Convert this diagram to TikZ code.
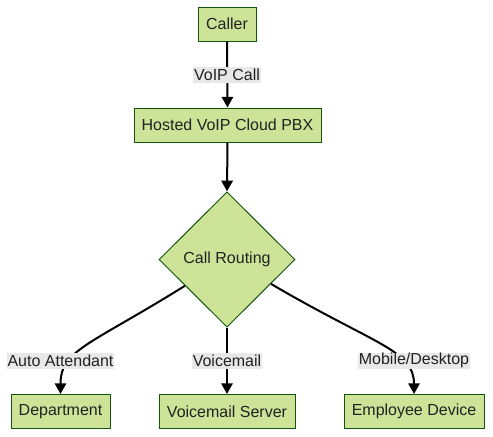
\documentclass[tikz,border=0pt]{standalone}
\usepackage{fontspec}
\setmainfont{Liberation Sans}
\usetikzlibrary{shapes.geometric,arrows.meta}
\definecolor{nodefill}{HTML}{CDE498}
\definecolor{nodeline}{HTML}{13540C}
\definecolor{lblbg}{HTML}{E8E8E8}
\definecolor{txt}{HTML}{222222}
\tikzset{
  box/.style={draw=nodeline, fill=nodefill, line width=0.75pt, inner sep=0pt,
    minimum height=25.5pt, text=txt, font=\fontsize{12}{14}\selectfont},
  dia/.style={diamond, draw=nodeline, fill=nodefill, line width=0.75pt, inner sep=0pt,
    minimum width=102pt, minimum height=101.5pt, text=txt, font=\fontsize{12}{14}\selectfont},
  lbl/.style={fill=lblbg, inner xsep=0.5pt, inner ysep=0pt, minimum height=12pt,
    text=txt, font=\fontsize{12}{14}\selectfont},
  edge/.style={line width=1.5pt, draw=black, -{Triangle[length=8pt,width=8.5pt]}},
  plain/.style={line width=1.5pt, draw=black}
}
\begin{document}
\begin{tikzpicture}[x=0.75pt,y=-0.75pt]
\useasboundingbox (0,0) rectangle (493,436);
\node[box, minimum width=43.5pt] (caller) at (227,24) {Caller};
\node[box, minimum width=140.25pt] (pbx) at (227.5,125) {Hosted VoIP Cloud PBX};
\node[dia] (route) at (227,259.5) {Call Routing};
\node[box, minimum width=74.25pt] (dept) at (60.5,411.5) {Department};
\node[box, minimum width=102pt] (vms) at (227,411.5) {Voicemail Server};
\node[box, minimum width=105pt] (emp) at (414,411.5) {Employee Device};

\draw[edge] (caller.south) -- (pbx.north);
\draw[edge] (pbx.south) -- (route.north);
\draw[edge] (route.212) .. controls (90,345) and (60.5,350) .. (dept.north);
\draw[edge] (route.south) -- (vms.north);
\draw[edge] (route.331) .. controls (375,345) and (414,350) .. (emp.north);

\node[lbl] (l1) at (227,74.5) {VoIP Call};
\node[lbl] (l2) at (60.5,360.5) {Auto Attendant};
\node[lbl] (l3) at (227,360.5) {Voicemail};
\node[lbl] (l4) at (414,360.5) {Mobile/Desktop};
\end{tikzpicture}
\end{document}
